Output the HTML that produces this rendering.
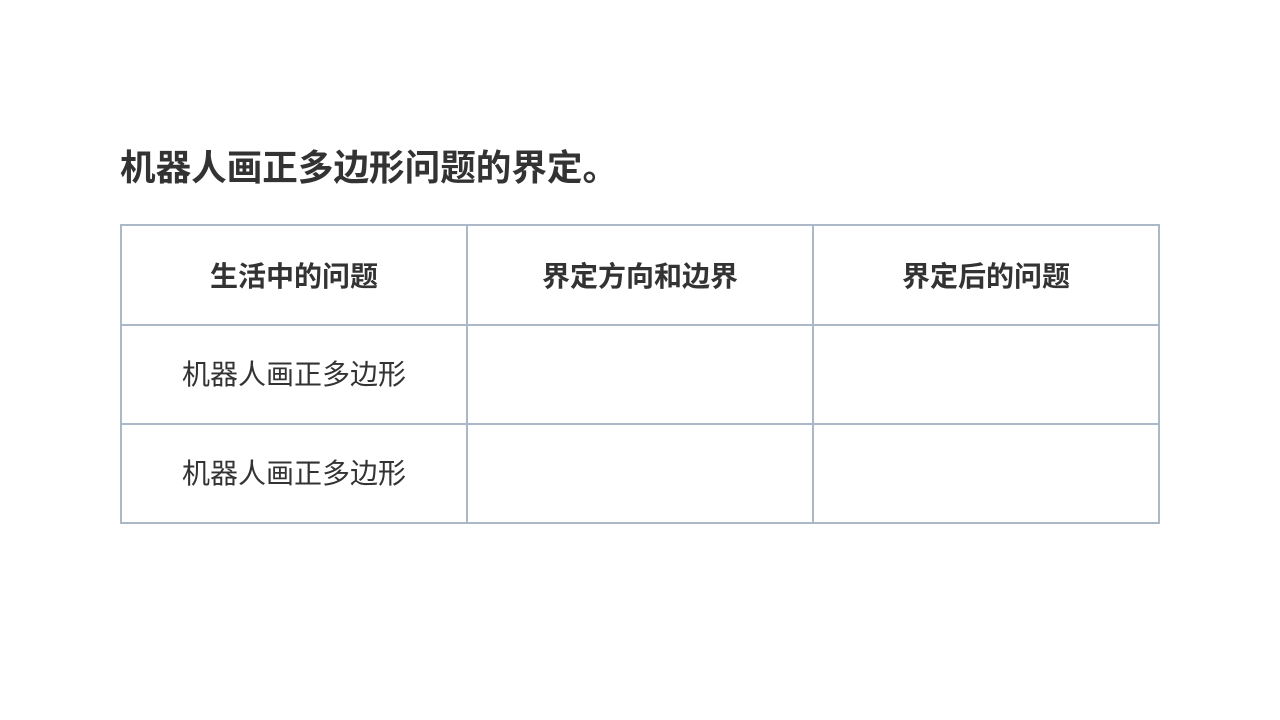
<!DOCTYPE html>
<html><head><meta charset="utf-8"><style>
body{margin:0;width:1280px;height:720px;background:#fff;position:relative;font-family:"Liberation Sans","Noto Sans CJK SC",sans-serif;color:#333;}
h1{position:absolute;left:120px;top:146px;margin:0;font-size:35.6px;font-weight:bold;line-height:44px;white-space:nowrap;}
table{position:absolute;left:120px;top:224px;border-collapse:collapse;}
td{border:2px solid #aab8c8;width:344px;text-align:center;font-size:28px;padding:0;}
tr.h td{font-weight:bold;height:98px;}
tr.r td{height:93px;padding-bottom:4px;}
</style></head><body>
<h1>机器人画正多边形问题的界定。</h1>
<table>
<tr class="h"><td>生活中的问题</td><td>界定方向和边界</td><td>界定后的问题</td></tr>
<tr class="r"><td>机器人画正多边形</td><td></td><td></td></tr>
<tr class="r"><td>机器人画正多边形</td><td></td><td></td></tr>
</table>
</body></html>
